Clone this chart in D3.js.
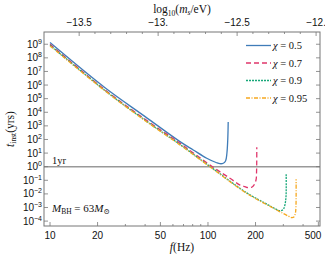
<!DOCTYPE html>
<html lang="en">
<head>
<meta charset="UTF-8">
<title>t_inst vs f</title>
<script src="https://d3js.org/d3.v7.min.js"></script>
<style>
    body { margin: 0; background: white; }
    svg { display: block; }
    .tick-label { font-family: "Liberation Sans", Arial, sans-serif; font-size: 10px; fill: #111; }
    .serif { font-family: "Liberation Serif", "DejaVu Serif", serif; fill: #111; }
</style>
</head>
<body>
<svg id="chart" width="325" height="261"></svg>
<script>
// chi values and line styles
const spins = [0.5, 0.7, 0.9, 0.95]
const colors = ["#3f7cb8", "#e0366b", "#17a779", "#f6a81f"]
const dashes = [null, "5,3", "2,1", "4,1.5,1,1.5"]

// frequencies (Hz) and log10(t_inst / yr)
const freqBlue = [10, 22.4, 39.8, 66.5, 80.7, 98.2, 113.5, 119.1, 125, 129.4, 131.8, 133.4, 134, 134.3]
const logtBlue = [9.12, 5.78, 3.7, 1.84, 1.23, 0.62, 0.29, 0.22, 0.25, 0.44, 0.99, 1.96, 2.7, 3.29]

const freqRed = [10, 22.4, 39.8, 66.5, 108, 137.7, 159.6, 171.4, 179.9, 189.2, 195.4, 201.4, 203.2, 203.7]
const logtRed = [9.0, 5.62, 3.5, 1.72, -0.05, -0.85, -1.35, -1.47, -1.54, -1.51, -1.35, -0.98, -0.24, 1.43]

const freqGreen = [10, 22.4, 39.8, 66.5, 108, 175.8, 239.9, 265.5, 285.8, 299.9, 306.9, 311.9, 312.6]
const logtGreen = [8.93, 5.58, 3.43, 1.63, -0.16, -1.92, -2.8, -3.08, -3.24, -3.13, -2.82, -2.21, -0.49]

const freqOrange = [10, 22.4, 39.8, 66.5, 108, 175.8, 272.3, 322.1, 338.8, 349.9, 357.3, 360.6, 361.4]
const logtOrange = [8.88, 5.55, 3.4, 1.6, -0.19, -1.96, -3.18, -3.63, -3.74, -3.7, -3.45, -2.94, -0.93]

const freqs = [freqBlue, freqRed, freqGreen, freqOrange]
const logts = [logtBlue, logtRed, logtGreen, logtOrange]

// axis ticks
const xMajor = [10, 20, 50, 100, 200, 500]
const xMinor = [30, 40, 60, 70, 80, 90, 300, 400]
const yExponents = [-4, -3, -2, -1, 0, 1, 2, 3, 4, 5, 6, 7, 8, 9]
const topMajor = [-13.5, -13, -12.5, -12]
const topLabels = ["\u221213.5", "\u221213.", "\u221212.5", "\u221212."]
const topMinor = [-13.4, -13.3, -13.2, -13.1, -12.9, -12.8, -12.7, -12.6, -12.4, -12.3, -12.2, -12.1]

const pLeft = 44, pRight = 320, pTop = 32, pBottom = 226
const svg = d3.select("#chart")

const x = d3.scaleLog().domain([9.16, 512]).range([pLeft, pRight])
const y = d3.scaleLog().domain([Math.pow(10, -4.36), Math.pow(10, 9.9)]).range([pBottom, pTop])
// log10(m_s/eV) -> f in Hz, f = m_s / (pi hbar)
const mToF = m => Math.pow(10, m + 14.6845)

const plot = svg.append("g")
plot.append("defs").append("clipPath").attr("id", "clip")
    .append("rect").attr("x", pLeft).attr("y", pTop)
    .attr("width", pRight - pLeft).attr("height", pBottom - pTop)

// 1yr line
plot.append("line")
    .attr("x1", pLeft).attr("x2", pRight)
    .attr("y1", y(1)).attr("y2", y(1))
    .attr("stroke", "#999").attr("stroke-width", 1.6)

const line = d3.line()
    .x(d => x(d[0]))
    .y(d => y(Math.pow(10, d[1])))
    .curve(d3.curveCatmullRom.alpha(0.5))

spins.forEach((chi, i) => {
    const pts = freqs[i].map((f, j) => [f, logts[i][j]])
    plot.append("path")
        .datum(pts)
        .attr("clip-path", "url(#clip)")
        .attr("fill", "none")
        .attr("stroke", colors[i])
        .attr("stroke-width", 1.3)
        .attr("stroke-dasharray", dashes[i])
        .attr("d", line)
})

// frame
svg.append("rect")
    .attr("x", pLeft).attr("y", pTop)
    .attr("width", pRight - pLeft).attr("height", pBottom - pTop)
    .attr("fill", "none").attr("stroke", "#777").attr("stroke-width", 1)

const ticks = svg.append("g").attr("stroke", "#777").attr("stroke-width", 0.8)
// bottom / top ticks
xMajor.forEach(v => {
    ticks.append("line").attr("x1", x(v)).attr("x2", x(v)).attr("y1", pBottom).attr("y2", pBottom - 4)
})
xMinor.forEach(v => {
    ticks.append("line").attr("x1", x(v)).attr("x2", x(v)).attr("y1", pBottom).attr("y2", pBottom - 2)
})
topMajor.forEach(m => {
    ticks.append("line").attr("x1", x(mToF(m))).attr("x2", x(mToF(m))).attr("y1", pTop).attr("y2", pTop + 4)
})
topMinor.forEach(m => {
    ticks.append("line").attr("x1", x(mToF(m))).attr("x2", x(mToF(m))).attr("y1", pTop).attr("y2", pTop + 2)
})
yExponents.forEach(e => {
    const yy = y(Math.pow(10, e))
    ticks.append("line").attr("x1", pLeft).attr("x2", pLeft + 4).attr("y1", yy).attr("y2", yy)
    ticks.append("line").attr("x1", pRight).attr("x2", pRight - 4).attr("y1", yy).attr("y2", yy)
})

// tick labels
xMajor.forEach(v => {
    svg.append("text").attr("class", "tick-label")
        .attr("x", Math.min(x(v), 313)).attr("y", pBottom + 13)
        .attr("text-anchor", "middle").text(v)
})
topMajor.forEach((m, i) => {
    svg.append("text").attr("class", "tick-label")
        .attr("x", x(mToF(m))).attr("y", pTop - 6)
        .attr("text-anchor", "middle").text(topLabels[i])
})
yExponents.forEach(e => {
    const t = svg.append("text").attr("class", "tick-label")
        .attr("x", pLeft - 2).attr("y", y(Math.pow(10, e)) + 3.5)
        .attr("text-anchor", "end")
    t.append("tspan").text("10")
    t.append("tspan").attr("dy", -4).attr("font-size", 7).text(e < 0 ? "\u2212" + (-e) : e)
})

// axis titles
const xt = svg.append("text").attr("class", "serif").attr("font-size", 11.5)
    .attr("x", 182).attr("y", 251).attr("text-anchor", "middle")
xt.append("tspan").attr("font-style", "italic").text("f")
xt.append("tspan").text("(Hz)")

const tt = svg.append("text").attr("class", "serif").attr("font-size", 11.5)
    .attr("x", 182).attr("y", 13).attr("text-anchor", "middle")
tt.append("tspan").text("log")
tt.append("tspan").attr("font-size", 7.5).attr("dy", 3).text("10")
tt.append("tspan").attr("dy", -3).text("(")
tt.append("tspan").attr("font-style", "italic").text("m")
tt.append("tspan").attr("font-style", "italic").attr("font-size", 7.5).attr("dy", 2).text("s")
tt.append("tspan").attr("dy", -2).text("/eV)")

const yt = svg.append("text").attr("class", "serif").attr("font-size", 11.5)
    .attr("transform", `translate(14, ${(pTop + pBottom) / 2}) rotate(-90)`)
    .attr("text-anchor", "middle")
yt.append("tspan").attr("font-style", "italic").text("t")
yt.append("tspan").attr("font-size", 7.5).attr("dy", 2).text("inst")
yt.append("tspan").attr("dy", -2).text("(yrs)")

// annotations
svg.append("text").attr("class", "serif").attr("font-size", 10.5)
    .attr("x", 52).attr("y", y(1) - 3).text("1yr")
const mb = svg.append("text").attr("class", "serif").attr("font-size", 11)
    .attr("x", 52).attr("y", 212)
mb.append("tspan").attr("font-style", "italic").text("M")
mb.append("tspan").attr("font-size", 7.5).attr("dy", 2).text("BH")
mb.append("tspan").attr("dy", -2).text(" = 63")
mb.append("tspan").attr("font-style", "italic").text("M")
mb.append("tspan").attr("font-size", 7.5).attr("dy", 2).text("\u2299")

// legend
spins.forEach((chi, i) => {
    const ly = 45.5 + i * 17.5
    svg.append("line")
        .attr("x1", 246).attr("x2", 271)
        .attr("y1", ly).attr("y2", ly)
        .attr("stroke", colors[i]).attr("stroke-width", 1.3)
        .attr("stroke-dasharray", dashes[i])
    const lt = svg.append("text").attr("class", "serif").attr("font-size", 10.5)
        .attr("x", 273).attr("y", ly + 3.5)
    lt.append("tspan").attr("font-style", "italic").text("\u03c7")
    lt.append("tspan").text(" = " + chi)
})
</script>
</body>
</html>
